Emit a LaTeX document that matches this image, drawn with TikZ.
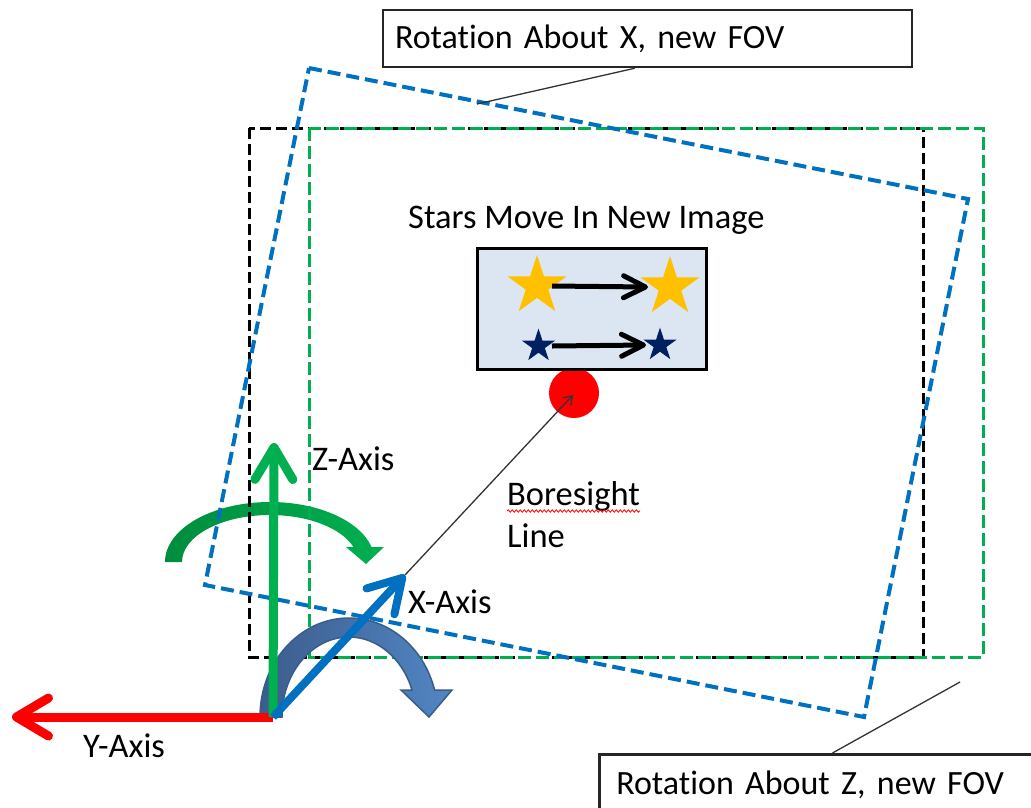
\documentclass[tikz,border=0pt]{standalone}
\usepackage{fontspec}
\setmainfont{Carlito}[Ligatures=NoCommon]
\usetikzlibrary{arrows.meta,shapes.geometric,decorations.pathmorphing,calc}
\definecolor{msblue}{RGB}{0,112,192}
\definecolor{msgreen}{RGB}{0,176,80}
\definecolor{msgreendark}{RGB}{0,140,62}
\definecolor{starboxfill}{RGB}{220,230,242}
\definecolor{stargold}{RGB}{255,192,0}
\definecolor{starnavy}{RGB}{0,32,96}
\definecolor{arcblue}{RGB}{82,134,196}
\definecolor{arcbluedark}{RGB}{56,93,138}
\definecolor{arcblueleft}{RGB}{60,92,140}
\begin{document}
\begin{tikzpicture}[x={(1pt,0)}, y={(0,-1pt)},
  lbl/.style={anchor=base west, inner sep=0pt, font=\fontsize{34.5}{40}\selectfont},
  callbox/.style={draw=black!85, line width=2.5, fill=white, align=left, inner xsep=12pt, inner ysep=0pt, font=\fontsize{34}{40}\selectfont},
  callline/.style={draw=black!80, line width=1.3},
  fovblack/.style={draw=black, line width=3, dash pattern=on 11pt off 5pt},
  fovgreen/.style={draw=msgreen, line width=3, dash pattern=on 13pt off 5pt},
  fovblue/.style={draw=msblue, line width=4, dash pattern=on 13pt off 6pt},
  axisarrow/.style={line width=9, -{Straight Barb[length=32pt,width=38pt,round]}},
  movearrow/.style={line width=5, -{Straight Barb[length=22pt,width=22pt,round]}},
  stargold/.style={star, star points=5, star point ratio=2.618, fill=stargold, inner sep=0pt, minimum size=62pt},
  starnavy/.style={star, star points=5, star point ratio=2.618, fill=starnavy, inner sep=0pt, minimum size=35pt},
  greenarc/.style={left color=msgreendark, right color=msgreen},
  bluearc/.style={left color=arcblueleft, right color=arcblue, draw=arcbluedark, line width=1.5},
]
\useasboundingbox (0,0) rectangle (1031,807);

% green rotation arrow (about Z)
\path[greenarc] (165,562) .. controls (165,528.9) and (212,502) .. (270,502)
  .. controls (317.9,502) and (359.7,520.5) .. (371.6,547)
  -- (384,547) -- (366,564) -- (346,547) -- (353.4,547)
  .. controls (341.4,527.9) and (307.8,515) .. (270,515)
  .. controls (221.4,515) and (182,536) .. (182,562) -- cycle;

% original FOV and rotated FOVs
\draw[fovblack] (249,128) rectangle (923,657);
\draw[fovgreen] (309,128) rectangle (983,657);

% blue rotation arrow (about X)
\path[bluearc] (260,717) .. controls (260,662.3) and (299.8,618) .. (349,618)
  .. controls (388.8,618) and (423.8,647.4) .. (434.6,690)
  -- (452,690) -- (429,717) -- (401,690) -- (412,690)
  .. controls (402.5,658.3) and (377.3,637) .. (349,637)
  .. controls (312,637) and (282,672.8) .. (282,717) -- cycle;

\draw[fovblue] (309,68) -- (968,199) -- (864,717) -- (205,585) -- cycle;

% callout boxes
\node[callbox, minimum width=529pt, minimum height=57pt, text width=505pt] (topbox) at (647.5,38.5) {Rotation About X, new FOV};
\coordinate (topend) at (477,104);
\draw[callline] ($(topbox.south west)!0.476!(topbox.south east)$) -- (topend);

\node[callbox, anchor=north west, minimum width=460pt, minimum height=62pt, text width=443pt, inner xsep=17pt] (botbox) at (598,753) {Rotation About Z, new FOV};
\coordinate (botend) at (960,682);
\draw[callline] ($(botbox.north west)!0.489!(botbox.north east)$) -- (botend);

% boresight target and star image
\node[circle, fill=red, inner sep=0pt, minimum size=50pt] (target) at (574,393) {};
\node[draw=black, line width=3, fill=starboxfill, minimum width=229pt, minimum height=121pt, inner sep=0pt] (starbox) at (591.5,308.5) {};
\node[stargold] (g1) at (537,286) {};
\node[stargold] (g2) at (670,287) {};
\node[starnavy] (n1) at (538.5,346) {};
\node[starnavy] (n2) at (660,345) {};
\draw[movearrow] ([xshift=15pt]g1.center) -- ([xshift=-22pt]g2.center);
\draw[movearrow] ([xshift=13.5pt]n1.center) -- ([xshift=-14pt]n2.center);
\node[lbl] (starlbl) at (408,228) {Stars Move In New Image};

% axes
\coordinate (O) at (273,717);
\coordinate (Ytip) at (12,717);
\coordinate (Ztip) at (274,443);
\coordinate (Xtip) at (405,575);
\coordinate (bstip) at (573,395);
\draw[black!80, line width=1.3, -{Straight Barb[length=8pt,width=11pt]}] (Xtip) -- (bstip);
\draw[axisarrow, draw=red] (O) -- (Ytip);
\draw[axisarrow, draw=msgreen] (O) -- (Ztip);
\draw[axisarrow, draw=msblue, line width=8] (O) -- (Xtip);

% labels
\node[lbl] (zlbl) at (312,470) {Z-Axis};
\node[lbl] (xlbl) at (408,613) {X-Axis};
\node[lbl] (ylbl) at (83,757) {Y-Axis};
\node[lbl] (bl1) at (507,505) {Boresight};
\node[lbl] (bl2) at (507,547) {Line};
\draw[red, line width=0.8, decorate, decoration={snake, amplitude=1.2pt, segment length=4pt}] ([yshift=-6pt]bl1.base west) -- ([yshift=-6pt]bl1.base east);
\end{tikzpicture}
\end{document}
